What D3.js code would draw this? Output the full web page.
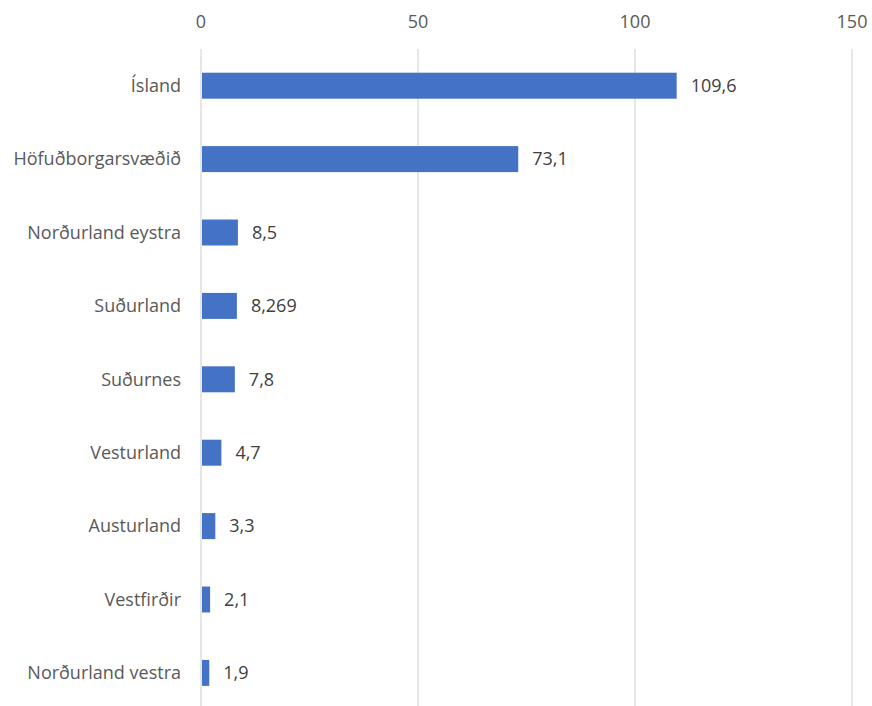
<!DOCTYPE html>
<html><head><meta charset="utf-8">
<script src="https://cdn.jsdelivr.net/npm/d3@7"></script>
<style>body{margin:0;background:#fff;} svg{display:block;}</style>
</head><body>
<svg id="c" width="872" height="706"></svg>
<script>
const categories = ["Ísland","Höfuðborgarsvæðið","Norðurland eystra","Suðurland","Suðurnes","Vesturland","Austurland","Vestfirðir","Norðurland vestra"];
const values = [109.6, 73.1, 8.5, 8.269, 7.8, 4.7, 3.3, 2.1, 1.9];
const valueLabels = ["109,6","73,1","8,5","8,269","7,8","4,7","3,3","2,1","1,9"];
const xTicks = [0, 50, 100, 150];

const svg = d3.select("#c");
const font = "'Open Sans', sans-serif";
const fs = 18;
const x = d3.scaleLinear().domain([0,150]).range([201,852]);
const y = d3.scaleBand().domain(categories).range([49,709.6]).paddingInner(0.646).paddingOuter(0.323);

svg.append("g").selectAll("line").data(xTicks).join("line")
  .attr("x1",d=>x(d)).attr("x2",d=>x(d)).attr("y1",49).attr("y2",706)
  .attr("stroke","#d9d9d9").attr("stroke-width",1.3);

svg.append("g").selectAll("text").data(xTicks).join("text")
  .attr("x",d=>x(d)).attr("y",28).attr("text-anchor","middle")
  .attr("font-family",font).attr("font-size",fs).attr("fill","#595959").text(d=>d);

svg.append("g").selectAll("rect").data(values).join("rect")
  .attr("x",x(0)+1).attr("y",(d,i)=>y(categories[i]))
  .attr("width",d=>x(d)-x(0)-1).attr("height",y.bandwidth())
  .attr("fill","#4472c4");

svg.append("g").selectAll("text").data(categories).join("text")
  .attr("x",181).attr("y",d=>y(d)+y.bandwidth()/2).attr("dy","0.35em")
  .attr("text-anchor","end").attr("font-family",font).attr("font-size",fs).attr("fill","#595959").text(d=>d);

svg.append("g").selectAll("text").data(values).join("text")
  .attr("x",d=>x(d)+14).attr("y",(d,i)=>y(categories[i])+y.bandwidth()/2).attr("dy","0.35em")
  .attr("font-family",font).attr("font-size",fs).attr("fill","#404040").text((d,i)=>valueLabels[i]);
</script>
</body></html>
